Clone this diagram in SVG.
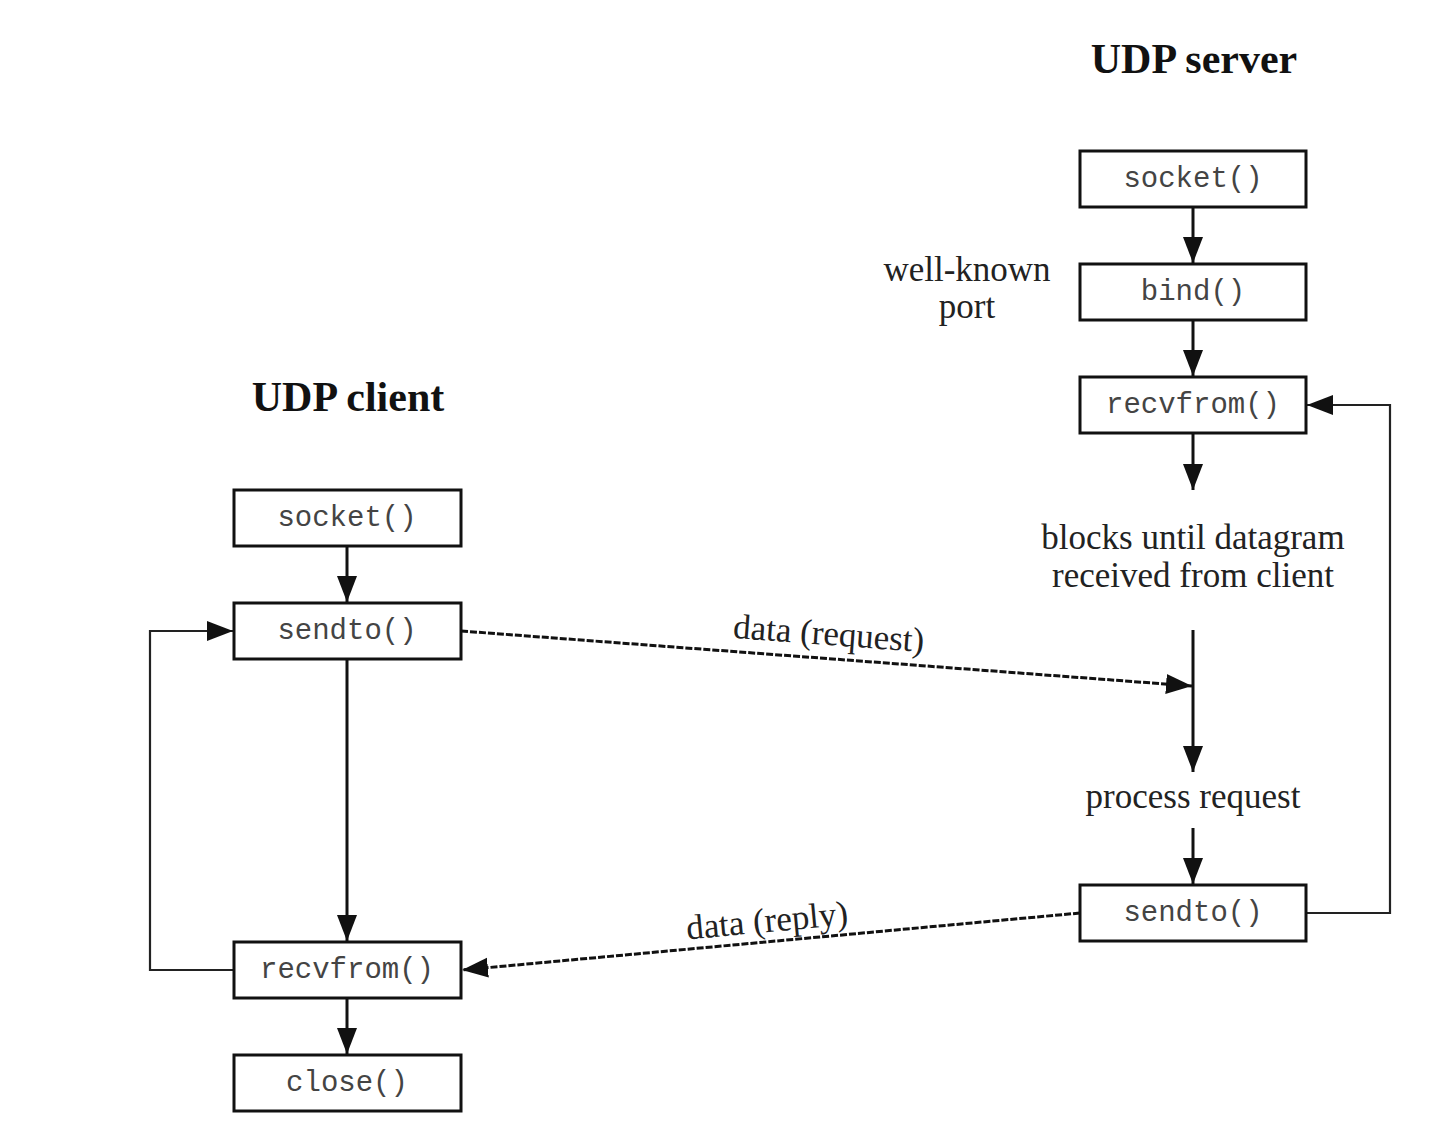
<svg xmlns="http://www.w3.org/2000/svg" width="1456" height="1134" viewBox="0 0 1456 1134">
<style>
.box rect{fill:#fff;stroke:#111;stroke-width:3}
.box text{font-family:"Liberation Mono","Courier New",monospace;font-size:29px;fill:#444;text-anchor:middle}
.title{font-family:"Liberation Serif","Times New Roman",serif;font-weight:bold;font-size:42px;fill:#111;text-anchor:middle}
.lbl{font-family:"Liberation Serif","Times New Roman",serif;font-size:35px;fill:#222;text-anchor:middle}
.c{fill:none;stroke:#111;stroke-width:3}
.t{fill:none;stroke:#222;stroke-width:2.2}
.d{fill:none;stroke:#111;stroke-width:3;stroke-dasharray:7 2}
</style>
<defs>
<marker id="ah" markerUnits="userSpaceOnUse" markerWidth="30" markerHeight="24" refX="26" refY="10" orient="auto">
<path d="M0,0 L26,10 L0,20 Z" fill="#111"/>
</marker>
</defs>
<rect width="1456" height="1134" fill="#fff"/>
<text class="title" x="1194" y="73">UDP server</text>
<text class="title" x="348" y="411">UDP client</text>
<g id="labels">
<text class="lbl" x="967" y="281">well-known</text>
<text class="lbl" x="967" y="318">port</text>
<text class="lbl" x="1193" y="549">blocks until datagram</text>
<text class="lbl" x="1193" y="587">received from client</text>
<text class="lbl" x="1193" y="808">process request</text>
</g>
<g id="connectors">
<line class="c" x1="1193" y1="207" x2="1193" y2="263" marker-end="url(#ah)"/>
<line class="c" x1="1193" y1="320" x2="1193" y2="376" marker-end="url(#ah)"/>
<line class="c" x1="1193" y1="433" x2="1193" y2="490" marker-end="url(#ah)"/>
<line class="c" x1="1193" y1="630" x2="1193" y2="772" marker-end="url(#ah)"/>
<line class="c" x1="1193" y1="828" x2="1193" y2="884" marker-end="url(#ah)"/>
<polyline class="t" points="1306,913 1390,913 1390,405 1307,405" marker-end="url(#ah)"/>
<line class="c" x1="347" y1="546" x2="347" y2="602" marker-end="url(#ah)"/>
<line class="c" x1="347" y1="659" x2="347" y2="941" marker-end="url(#ah)"/>
<line class="c" x1="347" y1="998" x2="347" y2="1054" marker-end="url(#ah)"/>
<polyline class="t" points="234,970 150,970 150,631 233,631" marker-end="url(#ah)"/>
<line class="d" x1="461" y1="631" x2="1192" y2="686" marker-end="url(#ah)"/>
<line class="d" x1="1080" y1="913" x2="462" y2="970" marker-end="url(#ah)"/>
<text class="lbl" x="828" y="645" transform="rotate(4.3 828 645)">data (request)</text>
<text class="lbl" x="768" y="932" transform="rotate(-5.3 768 932)">data (reply)</text>
</g>
<g id="srv-socket" class="box"><rect x="1080" y="151" width="226" height="56"/><text x="1193" y="187">socket()</text></g>
<g id="srv-bind" class="box"><rect x="1080" y="264" width="226" height="56"/><text x="1193" y="300">bind()</text></g>
<g id="srv-recvfrom" class="box"><rect x="1080" y="377" width="226" height="56"/><text x="1193" y="413">recvfrom()</text></g>
<g id="srv-sendto" class="box"><rect x="1080" y="885" width="226" height="56"/><text x="1193" y="921">sendto()</text></g>
<g id="cli-socket" class="box"><rect x="234" y="490" width="227" height="56"/><text x="347" y="526">socket()</text></g>
<g id="cli-sendto" class="box"><rect x="234" y="603" width="227" height="56"/><text x="347" y="639">sendto()</text></g>
<g id="cli-recvfrom" class="box"><rect x="234" y="942" width="227" height="56"/><text x="347" y="978">recvfrom()</text></g>
<g id="cli-close" class="box"><rect x="234" y="1055" width="227" height="56"/><text x="347" y="1091">close()</text></g>
</svg>
